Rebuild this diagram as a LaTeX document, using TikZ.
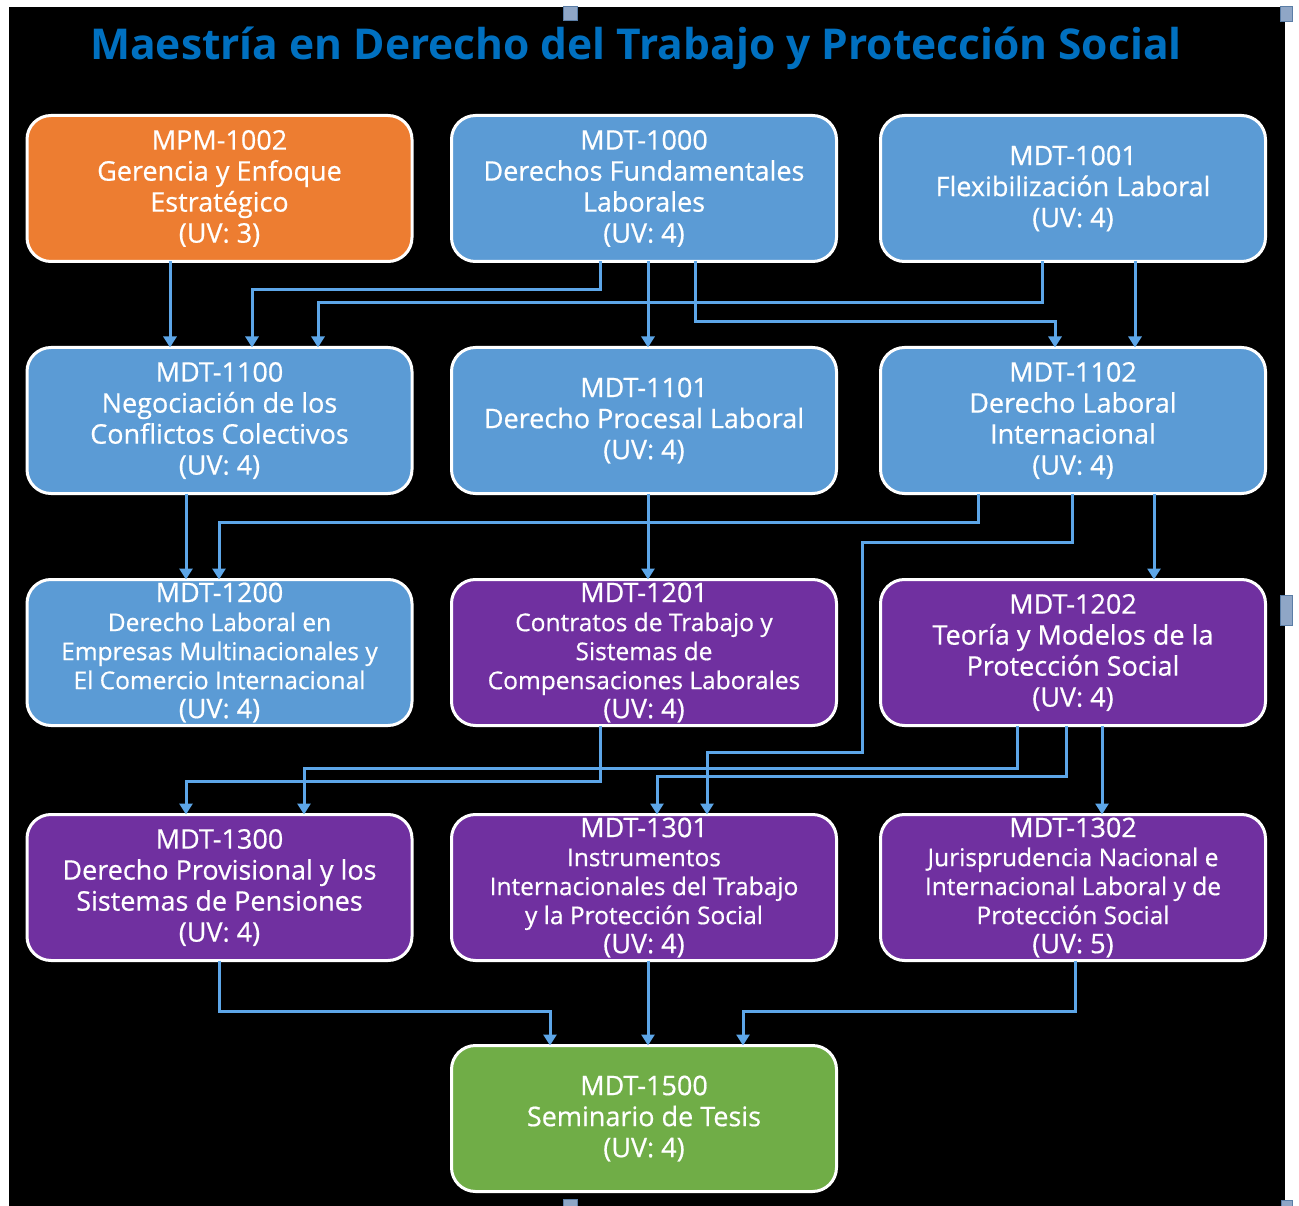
\documentclass[tikz,border=0pt]{standalone}
\usepackage{fontspec}
\setmainfont{Open Sans}
\newfontfamily\boxfont{Open Sans}[FakeBold=0.6]
\usetikzlibrary{arrows.meta}
\definecolor{orangebox}{HTML}{ED7D31}
\definecolor{bluebox}{HTML}{5B9BD5}
\definecolor{purplebox}{HTML}{7030A0}
\definecolor{greenbox}{HTML}{70AD47}
\definecolor{titleblue}{HTML}{0070C0}
\definecolor{connblue}{HTML}{5DA6E8}
\definecolor{handlefill}{HTML}{8FA6C6}
\definecolor{handleedge}{HTML}{5A7DA6}
\begin{document}
\begin{tikzpicture}[x=1pt,y=-1pt,
  course/.style={draw=white, line width=3pt, rounded corners=24pt,
    minimum width=385pt, minimum height=146pt, inner sep=0pt, outer sep=0pt,
    text=white, align=center, font=\boxfont\fontsize{27}{31}\selectfont},
  smalltext/.style={font=\boxfont\fontsize{24.5}{29}\selectfont},
  conn/.style={draw=connblue, line width=3pt, -{Triangle[width=13pt,length=11pt]}},
  handlebox/.style={fill=handlefill, draw=handleedge, line width=1pt}]

\useasboundingbox (0,0) rectangle (1299,1206);
\fill[black] (9,7) rectangle (1285,1206);

% selection handles
\filldraw[handlebox] (563,7) rectangle (577,21);
\filldraw[handlebox] (1280,7) rectangle (1292,22);
\filldraw[handlebox] (1280,595) rectangle (1292,625);
\filldraw[handlebox] (563,1199) rectangle (577,1206);
\filldraw[handlebox] (1281,1200) rectangle (1292,1206);

% title
\node[text=titleblue, font=\fontsize{42.5}{50}\selectfont\bfseries] (title) at (636,48)
  {Maestría en Derecho del Trabajo y Protección Social};

% row 1
\node[course, fill=orangebox] (mpm1002) at (219.5,188.5)
  {MPM-1002\\Gerencia y Enfoque\\Estratégico\\(UV: 3)};
\node[course, fill=bluebox] (m1000) at (644,188.5)
  {MDT-1000\\Derechos Fundamentales\\Laborales\\(UV: 4)};
\node[course, fill=bluebox] (m1001) at (1073,188.5)
  {MDT-1001\\Flexibilización Laboral\\(UV: 4)};
% row 2
\node[course, fill=bluebox] (m1100) at (219.5,420.5)
  {MDT-1100\\Negociación de los\\Conflictos Colectivos\\(UV: 4)};
\node[course, fill=bluebox] (m1101) at (644,420.5)
  {MDT-1101\\Derecho Procesal Laboral\\(UV: 4)};
\node[course, fill=bluebox] (m1102) at (1073,420.5)
  {MDT-1102\\Derecho Laboral\\Internacional\\(UV: 4)};
% row 3
\node[course, smalltext, fill=bluebox] (m1200) at (219.5,652.5)
  {{\fontsize{27}{29}\selectfont MDT-1200}\\Derecho Laboral en\\Empresas Multinacionales y\\El Comercio Internacional\\{\fontsize{27}{29}\selectfont (UV: 4)}};
\node[course, smalltext, fill=purplebox] (m1201) at (644,652.5)
  {{\fontsize{27}{29}\selectfont MDT-1201}\\Contratos de Trabajo y\\Sistemas de\\Compensaciones Laborales\\{\fontsize{27}{29}\selectfont (UV: 4)}};
\node[course, fill=purplebox] (m1202) at (1073,652.5)
  {MDT-1202\\Teoría y Modelos de la\\Protección Social\\(UV: 4)};
% row 4
\node[course, fill=purplebox] (m1300) at (219.5,887.5)
  {MDT-1300\\Derecho Provisional y los\\Sistemas de Pensiones\\(UV: 4)};
\node[course, smalltext, fill=purplebox] (m1301) at (644,887.5)
  {{\fontsize{27}{29}\selectfont MDT-1301}\\Instrumentos\\Internacionales del Trabajo\\y la Protección Social\\{\fontsize{27}{29}\selectfont (UV: 4)}};
\node[course, smalltext, fill=purplebox] (m1302) at (1073,887.5)
  {{\fontsize{27}{29}\selectfont MDT-1302}\\Jurisprudencia Nacional e\\Internacional Laboral y de\\Protección Social\\{\fontsize{27}{29}\selectfont (UV: 5)}};
% row 5
\node[course, fill=greenbox] (m1500) at (644,1118.5)
  {MDT-1500\\Seminario de Tesis\\(UV: 4)};

% connectors row 1 -> row 2
\draw[conn] (170,0 |- mpm1002.south) -- (170,0 |- m1100.north);
\draw[conn] (600,0 |- m1000.south) -- (600,290) -- (252,290) -- (252,0 |- m1100.north);
\draw[conn] (1042,0 |- m1001.south) -- (1042,303) -- (318,303) -- (318,0 |- m1100.north);
\draw[conn] (648,0 |- m1000.south) -- (648,0 |- m1101.north);
\draw[conn] (695,0 |- m1000.south) -- (695,322) -- (1055,322) -- (1055,0 |- m1102.north);
\draw[conn] (1135,0 |- m1001.south) -- (1135,0 |- m1102.north);
% row 2 -> row 3
\draw[conn] (186,0 |- m1100.south) -- (186,0 |- m1200.north);
\draw[conn] (978,0 |- m1102.south) -- (978,522) -- (219,522) -- (219,0 |- m1200.north);
\draw[conn] (648,0 |- m1101.south) -- (648,0 |- m1201.north);
\draw[conn] (1072,0 |- m1102.south) -- (1072,542) -- (862,542) -- (862,752) -- (707,752) -- (707,0 |- m1301.north);
\draw[conn] (1154,0 |- m1102.south) -- (1154,0 |- m1202.north);
% row 3 -> row 4
\draw[conn] (600,0 |- m1201.south) -- (600,781) -- (186,781) -- (186,0 |- m1300.north);
\draw[conn] (1017,0 |- m1202.south) -- (1017,768) -- (304,768) -- (304,0 |- m1300.north);
\draw[conn] (1066,0 |- m1202.south) -- (1066,776) -- (657,776) -- (657,0 |- m1301.north);
\draw[conn] (1102,0 |- m1202.south) -- (1102,0 |- m1302.north);
% row 4 -> row 5
\draw[conn] (219,0 |- m1300.south) -- (219,1011) -- (550,1011) -- (550,0 |- m1500.north);
\draw[conn] (648,0 |- m1301.south) -- (648,0 |- m1500.north);
\draw[conn] (1075,0 |- m1302.south) -- (1075,1011) -- (743,1011) -- (743,0 |- m1500.north);
\end{tikzpicture}
\end{document}
